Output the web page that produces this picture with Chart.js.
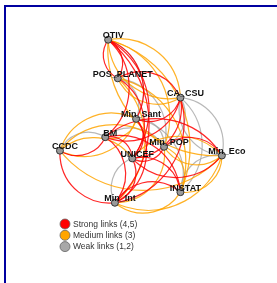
<!DOCTYPE html>
<html>
<head>
<meta charset="utf-8">
<script src="https://cdn.jsdelivr.net/npm/chart.js@4"></script>
<style>
    html, body { margin: 0; padding: 0; background: #fff; overflow: hidden; }
    #wrap { position: relative; width: 277px; height: 283px; }
    #frame { position: absolute; left: 4px; top: 5px; width: 320px; height: 320px; border: 2px solid #0000a0; pointer-events: none; }
</style>
</head>
<body>
<div id="wrap">
    <canvas id="network_chart" width="277" height="283"></canvas>
    <div id="frame"></div>
</div>
<script>
// Nodes
const nodeNames = ['OTIV', 'POS_PLANET', 'CA_CSU', 'Min_Sant', 'BM', 'CCDC', 'Min_POP', 'Min_Eco', 'UNICEF', 'INSTAT', 'Min_Int'];
const nodeX     = [107, 117, 182, 136, 104, 57, 165, 225, 132, 182, 114];
const nodeY     = [36, 76, 96, 118, 137, 151, 147, 156, 159, 194, 205];

// Links (index of source / target node, strength 1..5)
const linkSource   = [0, 1, 0, 2, 0, 0, 0, 0, 0, 7, 0, 0, 1, 2, 1, 1, 1, 1, 1, 2, 2, 5, 2, 2, 7, 2, 2, 2, 3, 3, 3, 3, 3, 3, 4, 4, 5, 4, 4, 4, 4, 10, 5, 5, 7, 6, 7, 6, 6, 6, 8, 7, 7, 9, 7, 8, 8, 10, 10, 9];
const linkTarget   = [1, 0, 2, 0, 3, 4, 8, 10, 6, 0, 9, 3, 2, 1, 3, 6, 8, 9, 10, 3, 4, 3, 6, 7, 2, 8, 9, 10, 4, 5, 6, 8, 9, 10, 7, 5, 4, 6, 8, 10, 9, 5, 6, 8, 5, 7, 6, 8, 9, 10, 7, 8, 9, 7, 10, 9, 10, 8, 9, 10];
const linkStrength = [5, 4, 3, 3, 4, 5, 4, 4, 3, 3, 3, 2, 4, 3, 2, 1, 5, 3, 3, 4, 4, 3, 2, 1, 2, 5, 2, 4, 3, 3, 2, 5, 1, 4, 4, 4, 2, 1, 5, 4, 4, 5, 3, 3, 3, 4, 3, 5, 3, 3, 3, 4, 3, 2, 3, 4, 5, 2, 4, 3];

// Legend
const legendLabels = ['Strong links (4,5)', 'Medium links (3)', 'Weak links (1,2)'];
const legendColors = ['#ff0000', '#ffa500', '#a8a8a8'];

function linkColor(v) {
    if (v >= 4) return 'rgba(255,0,0,0.85)';
    if (v === 3) return 'rgba(255,165,0,0.85)';
    return 'rgba(160,160,160,0.75)';
}

// Links drawn as arcs between node pixels
const linksPlugin = {
    id: 'links',
    beforeDatasetsDraw(chart) {
        const ctx = chart.ctx, xs = chart.scales.x, ys = chart.scales.y;
        const order = linkStrength.map((v, i) => i).sort((a, b) => linkStrength[a] - linkStrength[b]);
        ctx.save();
        ctx.lineWidth = 1.2;
        order.forEach(i => {
            const ax = xs.getPixelForValue(nodeX[linkSource[i]]), ay = ys.getPixelForValue(nodeY[linkSource[i]]);
            const bx = xs.getPixelForValue(nodeX[linkTarget[i]]), by = ys.getPixelForValue(nodeY[linkTarget[i]]);
            const dx = bx - ax, dy = by - ay, d = Math.sqrt(dx * dx + dy * dy);
            // arc radius for a bow of about 0.23 of the chord
            const s = 0.23, r = (s * s + 0.25) / (2 * s) * d, h = Math.sqrt(r * r - d * d / 4);
            const cx = (ax + bx) / 2 - dy / d * h, cy = (ay + by) / 2 + dx / d * h;
            const a0 = Math.atan2(ay - cy, ax - cx), a1 = Math.atan2(by - cy, bx - cx);
            let diff = a1 - a0;
            while (diff > Math.PI) diff -= 2 * Math.PI;
            while (diff < -Math.PI) diff += 2 * Math.PI;
            ctx.strokeStyle = linkColor(linkStrength[i]);
            ctx.beginPath();
            ctx.arc(cx, cy, r, a0, a1, diff < 0);
            ctx.stroke();
        });
        ctx.restore();
    },
    afterDatasetsDraw(chart) {
        const ctx = chart.ctx, xs = chart.scales.x, ys = chart.scales.y;
        ctx.save();
        // node labels
        ctx.font = 'bold 9px "Liberation Sans", Arial, sans-serif';
        ctx.fillStyle = '#111';
        ctx.textAlign = 'center';
        ctx.textBaseline = 'middle';
        nodeNames.forEach((name, i) => {
            ctx.fillText(name, xs.getPixelForValue(nodeX[i]) + 5, ys.getPixelForValue(nodeY[i]) - 4);
        });
        // legend
        ctx.font = '8.5px "Liberation Sans", Arial, sans-serif';
        ctx.textAlign = 'left';
        legendLabels.forEach((label, i) => {
            const y = 224 + i * 11.3;
            ctx.beginPath();
            ctx.arc(65, y, 5, 0, 2 * Math.PI);
            ctx.fillStyle = legendColors[i];
            ctx.fill();
            ctx.strokeStyle = '#666';
            ctx.lineWidth = 0.8;
            ctx.stroke();
            ctx.fillStyle = '#333';
            ctx.fillText(label, 73, y + 0.5);
        });
        ctx.restore();
    }
};

const networkCtx = document.getElementById('network_chart');

new Chart(networkCtx, {
    type: 'scatter',
    data: {
        datasets: [{
            data: nodeNames.map((n, i) => ({ x: nodeX[i], y: nodeY[i] })),
            pointRadius: 3.5,
            pointBackgroundColor: '#9a9a9a',
            pointBorderColor: '#333',
            pointBorderWidth: 1
        }]
    },
    options: {
        responsive: false,
        animation: false,
        layout: { padding: 0 },
        plugins: { legend: { display: false }, tooltip: { enabled: false } },
        scales: {
            x: { display: false, min: 0, max: 277 },
            y: { display: false, min: 0, max: 283, reverse: true }
        }
    },
    plugins: [linksPlugin]
});
</script>
</body>
</html>
